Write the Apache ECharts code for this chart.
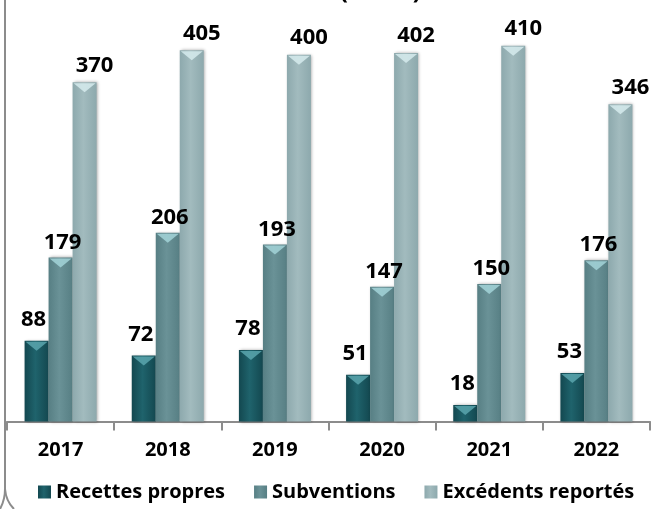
<!DOCTYPE html>
<html>
<head>
<meta charset="utf-8">
<script src="https://cdn.jsdelivr.net/npm/echarts@6/dist/echarts.min.js"></script>
<style>
  html, body { margin: 0; padding: 0; background: #fff; }
  #chart { width: 651px; height: 509px; }
</style>
</head>
<body>
<div id="chart"></div>
<script>
// Années et montants (k€)
const years = ['2017', '2018', '2019', '2020', '2021', '2022'];
const recettesPropres = [88, 72, 78, 51, 18, 53];
const subventions = [179, 206, 193, 147, 150, 176];
const excedentsReportes = [370, 405, 400, 402, 410, 346];
const seriesNames = ['Recettes propres', 'Subventions', 'Excédents reportés'];

const FONT = '"Open Sans", Lato, sans-serif';

function sideGradient(edge, mid) {
  return {
    type: 'linear', x: 0, y: 0, x2: 1, y2: 0,
    colorStops: [
      { offset: 0, color: edge },
      { offset: 0.45, color: mid },
      { offset: 1, color: edge }
    ]
  };
}

const palette = [
  { edge: '#134850', mid: '#1f636c', bevel: '#5aa6ae' },
  { edge: '#577f84', mid: '#6a9297', bevel: '#a3d3d8' },
  { edge: '#8da9ad', mid: '#a2bbbe', bevel: '#d6ebed' }
];

const labelOffsets = [[-3, 0], [2, 0], [10, 0]];
const labelDistances = [10, 4, 6];
const values = [recettesPropres, subventions, excedentsReportes];

const barSeries = values.map((data, i) => ({
  name: seriesNames[i],
  type: 'bar',
  data: data,
  barWidth: 24,
  barGap: '0%',
  itemStyle: {
    color: sideGradient(palette[i].edge, palette[i].mid),
    shadowBlur: 3,
    shadowColor: 'rgba(0,0,0,0.35)',
    shadowOffsetX: 1,
    shadowOffsetY: 0
  },
  label: {
    show: true,
    position: 'top',
    distance: labelDistances[i],
    offset: labelOffsets[i],
    color: '#000',
    fontFamily: FONT,
    fontWeight: 'bold',
    fontSize: 22
  },
  z: 2
}));

// Biseau clair en haut de chaque barre
const bevelSeries = values.map((data, i) => ({
  name: seriesNames[i] + ' ',
  type: 'pictorialBar',
  data: data,
  barWidth: 24,
  barGap: '0%',
  symbol: 'path://M0,0 L10,0 L5,4 Z',
  symbolSize: [22, 9],
  symbolPosition: 'end',
  symbolOffset: [0, 1],
  itemStyle: { color: palette[i].bevel, opacity: 0.85 },
  silent: true,
  z: 3
}));

const chart = echarts.init(document.getElementById('chart'), null, { renderer: 'canvas' });

chart.setOption({
  animation: false,
  title: {
    text: 'Recettes (en k€)',
    left: 'center',
    top: -25,
    textStyle: { fontFamily: FONT, fontWeight: 'bold', fontSize: 24, color: '#000' }
  },
  grid: { left: 7, right: 1, top: 9, bottom: 87.5, containLabel: false },
  legend: {
    data: seriesNames,
    left: 38,
    top: 482,
    padding: 0,
    itemWidth: 13,
    itemHeight: 13,
    itemGap: 29,
    icon: 'rect',
    textStyle: { fontFamily: FONT, fontWeight: 'bold', fontSize: 20, color: '#000' }
  },
  xAxis: {
    type: 'category',
    data: years,
    axisLine: { show: true, lineStyle: { color: '#8c8c8c', width: 2 } },
    axisTick: { show: true, length: 9, lineStyle: { color: '#8c8c8c', width: 2 } },
    axisLabel: { margin: 19, color: '#000', fontFamily: FONT, fontWeight: 'bold', fontSize: 20 }
  },
  yAxis: {
    type: 'value',
    min: 0,
    max: 450,
    show: false,
    splitLine: { show: false }
  },
  graphic: [
    {
      type: 'line',
      shape: { x1: 5, y1: 0, x2: 5, y2: 489 },
      style: { stroke: '#8c8c8c', lineWidth: 2 },
      silent: true
    },
    {
      type: 'bezierCurve',
      shape: { x1: 5, y1: 489, cpx1: 5, cpy1: 500, x2: 0, y2: 509 },
      style: { stroke: '#8c8c8c', lineWidth: 2, fill: null },
      silent: true
    },
    {
      type: 'bezierCurve',
      shape: { x1: 5, y1: 489, cpx1: 6, cpy1: 501, x2: 14, y2: 509 },
      style: { stroke: '#8c8c8c', lineWidth: 2, fill: null },
      silent: true
    }
  ],
  series: barSeries.concat(bevelSeries)
});
</script>
</body>
</html>
